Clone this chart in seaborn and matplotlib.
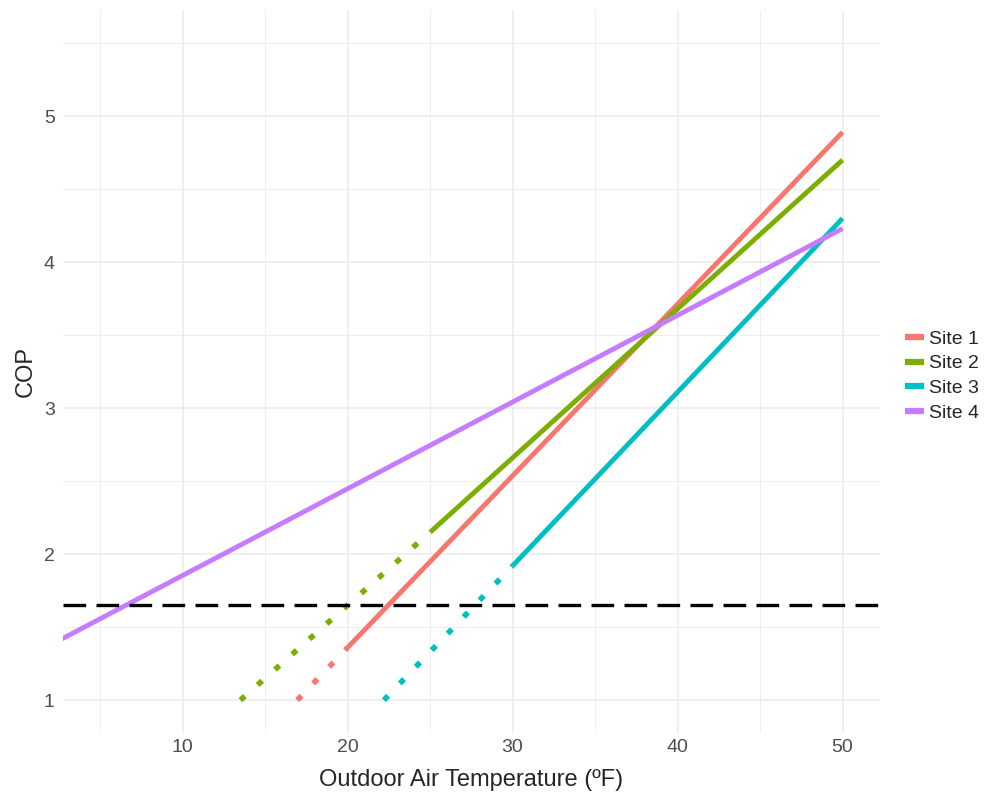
import numpy as np
import pandas as pd
import matplotlib
matplotlib.use('Agg')
import matplotlib.pyplot as plt
from matplotlib.ticker import MultipleLocator
import seaborn as sns

# fitted COP lines, measured range (solid) and extrapolation (dotted)
sites = ['Site 1', 'Site 2', 'Site 3', 'Site 4']
solid_t0 = [20, 25, 30, 0]
solid_t1 = [50, 50, 50, 50]
solid_cop0 = [1.36, 2.15, 1.92, 1.26]
solid_cop1 = [4.89, 4.70, 4.30, 4.23]
dot_t0 = [16.95, 13.5, 22.2]
dot_cop0 = [1.0, 1.0, 1.0]
threshold = 1.65

colors = ['#F8766D', '#7CAE00', '#00BFC4', '#C77CFF']
pal = dict(zip(sites, colors))

solid = pd.DataFrame({
    'site': sites * 2,
    'temp': solid_t0 + solid_t1,
    'cop': solid_cop0 + solid_cop1,
})
dotted = pd.DataFrame({
    'site': sites[:3] * 2,
    'temp': dot_t0 + solid_t0[:3],
    'cop': dot_cop0 + solid_cop0[:3],
})

sns.set_style('white')
plt.rcParams['font.family'] = ['Liberation Sans', 'DejaVu Sans']

fig = plt.figure(figsize=(9.84, 7.95), dpi=100)
ax = fig.add_axes([0.064, 0.078, 0.83, 0.909])

sns.lineplot(data=dotted, x='temp', y='cop', hue='site', palette=pal,
             linewidth=4, linestyle=(0, (1.1, 3.05)), legend=False, ax=ax)
sns.lineplot(data=solid, x='temp', y='cop', hue='site', palette=pal,
             linewidth=3.5, ax=ax)
for line in ax.get_lines():
    line.set_solid_capstyle('butt')
    line.set_dash_capstyle('butt')
ax.axhline(threshold, color='black', linewidth=2.4, dashes=(6.8, 3.1))

ax.set_xlim(2.75, 52.25)
ax.set_ylim(0.775, 5.725)
ax.xaxis.set_major_locator(MultipleLocator(10))
ax.xaxis.set_minor_locator(MultipleLocator(5))
ax.yaxis.set_major_locator(MultipleLocator(1))
ax.yaxis.set_minor_locator(MultipleLocator(0.5))
ax.grid(which='major', color='#EBEBEB', linewidth=1.1)
ax.grid(which='minor', color='#EBEBEB', linewidth=0.6)
ax.set_axisbelow(True)
for s in ax.spines.values():
    s.set_visible(False)
ax.tick_params(which='both', length=0, labelsize=14, labelcolor='#4D4D4D')
ax.tick_params(axis='x', pad=4)
ax.tick_params(axis='y', pad=6)

ax.set_xlabel('Outdoor Air Temperature (ºF)', fontsize=17, labelpad=10)
ax.set_ylabel('COP', fontsize=17, labelpad=5)

leg = ax.legend(loc='center left', bbox_to_anchor=(1.01, 0.494), frameon=False,
                fontsize=14, handlelength=0.95, handletextpad=0.25,
                labelspacing=0.36, title=None)
for line in leg.get_lines():
    line.set_linewidth(4.5)

fig.savefig('out.png', dpi=100)
